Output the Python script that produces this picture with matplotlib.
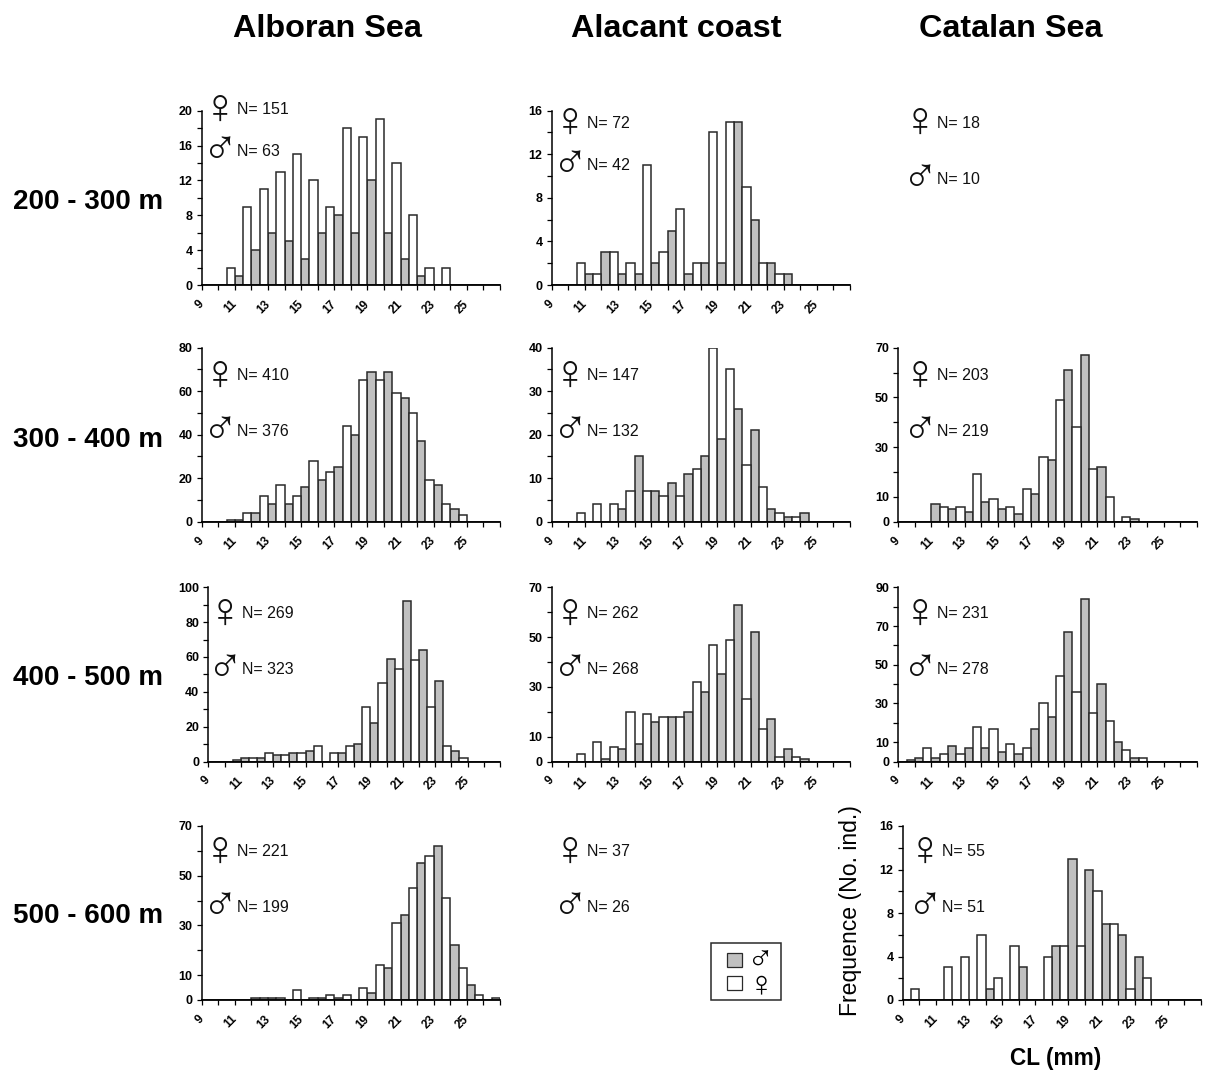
import numpy as np
import matplotlib
matplotlib.use('Agg')
import matplotlib.pyplot as plt
from matplotlib.transforms import ScaledTranslation

plt.rcParams['font.family'] = ['Liberation Sans', 'DejaVu Sans']

W, H = 1205, 1072

# size classes, CL (mm)
cl = np.arange(9, 27)

# counts per class, male = grey, female = white
alb200_m = [0, 0, 1, 4, 6, 5, 3, 6, 8, 6, 12, 6, 3, 1, 0, 0, 0, 0]
alb200_f = [0, 2, 9, 11, 13, 15, 12, 9, 18, 17, 19, 14, 8, 2, 2, 0, 0, 0]
ala200_m = [0, 0, 1, 3, 1, 1, 2, 5, 1, 2, 2, 15, 6, 2, 1, 0, 0, 0]
ala200_f = [0, 2, 1, 3, 2, 11, 3, 7, 2, 14, 15, 9, 2, 1, 0, 0, 0, 0]

alb300_m = [0, 0, 1, 4, 8, 8, 16, 19, 25, 40, 69, 69, 57, 37, 17, 6, 0, 0]
alb300_f = [0, 1, 4, 12, 17, 12, 28, 23, 44, 65, 65, 59, 50, 19, 8, 3, 0, 0]
ala300_m = [0, 0, 0, 0, 3, 15, 7, 9, 11, 15, 19, 26, 21, 3, 1, 2, 0, 0]
ala300_f = [0, 2, 4, 4, 7, 7, 6, 6, 12, 40, 35, 13, 8, 2, 1, 0, 0, 0]
cat300_m = [0, 0, 7, 5, 4, 8, 5, 3, 11, 25, 61, 67, 22, 0, 1, 0, 0, 0]
cat300_f = [0, 0, 6, 6, 19, 9, 6, 13, 26, 49, 38, 21, 10, 2, 0, 0, 0, 0]

alb400_m = [0, 0, 2, 2, 4, 5, 6, 0, 5, 10, 22, 59, 92, 64, 46, 6, 0, 0]
alb400_f = [0, 1, 2, 5, 4, 5, 9, 5, 9, 31, 45, 53, 58, 31, 9, 2, 0, 0]
ala400_m = [0, 0, 0, 1, 5, 7, 16, 18, 20, 28, 35, 63, 52, 17, 5, 1, 0, 0]
ala400_f = [0, 3, 8, 6, 20, 19, 18, 18, 32, 47, 49, 25, 13, 2, 2, 0, 0, 0]
cat400_m = [0, 2, 2, 8, 7, 7, 5, 4, 17, 23, 67, 84, 40, 10, 2, 0, 0, 0]
cat400_f = [1, 7, 4, 4, 18, 17, 9, 7, 30, 44, 36, 25, 21, 6, 2, 0, 0, 0]

alb500_m = [0, 0, 0, 1, 1, 0, 0, 1, 1, 0, 3, 13, 34, 55, 62, 22, 6, 0]
alb500_f = [0, 0, 0, 1, 1, 4, 1, 2, 2, 5, 14, 31, 45, 58, 41, 13, 2, 1]
cat500_m = [0, 0, 0, 0, 0, 1, 0, 3, 0, 5, 13, 12, 7, 6, 4, 0, 0, 0]
cat500_f = [1, 0, 3, 4, 6, 2, 5, 0, 4, 5, 5, 10, 7, 1, 2, 0, 0, 0]

sites = ['Alboran Sea', 'Alacant coast', 'Catalan Sea']
depths = ['200 - 300 m', '300 - 400 m', '400 - 500 m', '500 - 600 m']

# sample sizes (female, male)
n_alb = [(151, 63), (410, 376), (269, 323), (221, 199)]
n_ala = [(72, 42), (147, 132), (262, 268), (37, 26)]
n_cat = [(18, 10), (203, 219), (231, 278), (55, 51)]

# y axes: top, labelled ticks, tick step
scale_a = (20, [0, 4, 8, 12, 16, 20], 2)
scale_b = (16, [0, 4, 8, 12, 16], 2)
scale_c = (80, [0, 20, 40, 60, 80], 10)
scale_d = (40, [0, 10, 20, 30, 40], 5)
scale_e = (70, [0, 10, 30, 50, 70], 10)
scale_f = (100, [0, 20, 40, 60, 80, 100], 10)
scale_g = (90, [0, 10, 30, 50, 70, 90], 10)

# panel boxes in pixels: left, right, top, bottom
panels = [
    (201.7, 500, 110.7, 285, alb200_m, alb200_f, scale_a),
    (551.7, 850, 110.7, 285, ala200_m, ala200_f, scale_b),
    (201.7, 500, 347.7, 521.7, alb300_m, alb300_f, scale_c),
    (551.7, 850, 347.7, 521.7, ala300_m, ala300_f, scale_d),
    (898.3, 1196.7, 347.7, 521.7, cat300_m, cat300_f, scale_e),
    (208.3, 500, 587.3, 761.5, alb400_m, alb400_f, scale_f),
    (551.7, 850, 587.3, 761.5, ala400_m, ala400_f, scale_e),
    (898.3, 1196.7, 587.3, 761.5, cat400_m, cat400_f, scale_g),
    (201.7, 500, 826, 1000, alb500_m, alb500_f, scale_e),
    (902.7, 1201, 826, 1000, cat500_m, cat500_f, scale_b),
]

GREY = '#c0c0c0'
EDGE = '#2a2a2a'
SYMBOL_FONT = ['Liberation Sans', 'DejaVu Sans']


def fx(px):
    return px / W


def fy(py):
    return 1 - py / H


fig = plt.figure(figsize=(W / 100, H / 100), dpi=100)
label_shift = ScaledTranslation(-4 / 100, -1 / 100, fig.dpi_scale_trans)

for left, right, top, bottom, male, female, scale in panels:
    ax = fig.add_axes([fx(left), fy(bottom), (right - left) / W, (bottom - top) / H])
    ax.bar(cl, male, width=0.5, align='edge', fc=GREY, ec=EDGE, lw=1.1)
    ax.bar(cl + 0.5, female, width=0.5, align='edge', fc='white', ec=EDGE, lw=1.1)
    ymax, labelled, step = scale
    ax.set_xlim(9, 27)
    ax.set_ylim(0, ymax)
    ax.spines['top'].set_visible(False)
    ax.spines['right'].set_visible(False)
    ax.spines['left'].set_linewidth(1.1)
    ax.spines['bottom'].set_linewidth(1.3)
    ax.set_xticks(np.arange(9, 28))
    ax.set_xticklabels([str(v) if v % 2 == 1 and v < 27 else '' for v in range(9, 28)],
                       rotation=45, ha='right', va='top', rotation_mode='anchor',
                       fontsize=8.5, fontweight='bold')
    ax.set_yticks(np.arange(0, ymax + step, step))
    ax.set_yticklabels([str(v) if v in labelled else '' for v in np.arange(0, ymax + step, step)],
                       fontsize=9, fontweight='bold')
    ax.tick_params(axis='both', length=3.6, width=0.9)
    ax.tick_params(axis='x', pad=5)
    ax.tick_params(axis='y', pad=3)
    # after tick_params, which resets the label transforms
    for lab in ax.get_xticklabels():
        lab.set_transform(lab.get_transform() + label_shift)

# column and row titles
for name, x in zip(sites, [327.5, 676, 1011]):
    fig.text(fx(x), fy(29), name, fontsize=23.3, fontweight='bold', ha='center', va='center')
for name, y in zip(depths, [202, 440, 678, 916]):
    fig.text(fx(13), fy(y), name, fontsize=20, fontweight='bold', ha='left', va='center')


def sex_note(x, y, text, symbol):
    fig.text(fx(x), fy(y + 1), symbol, fontsize=35, ha='center', va='center',
             family=SYMBOL_FONT, color='#111111')
    fig.text(fx(x + 17), fy(y + 1), text, fontsize=11.5, ha='left', va='center', color='#111111')


# rows: y of female note, y of male note
note_y = [(109, 150), (375, 431), (613, 669), (851, 907)]
note_y_ala1 = (122, 164)
note_y_cat1 = (122, 178)

for i, (nf, nm) in enumerate(n_alb):
    yf, ym = note_y[i]
    x = 225 if i == 2 else 220
    sex_note(x, yf, 'N= %d' % nf, '\u2640')
    sex_note(x, ym, 'N= %d' % nm, '\u2642')
for i, (nf, nm) in enumerate(n_ala):
    yf, ym = note_y_ala1 if i == 0 else note_y[i]
    sex_note(570, yf, 'N= %d' % nf, '\u2640')
    sex_note(570, ym, 'N= %d' % nm, '\u2642')
for i, (nf, nm) in enumerate(n_cat):
    yf, ym = note_y_cat1 if i == 0 else note_y[i]
    x = 925 if i == 3 else 920
    sex_note(x, yf, 'N= %d' % nf, '\u2640')
    sex_note(x, ym, 'N= %d' % nm, '\u2642')

# legend box
fig.add_artist(plt.Rectangle((fx(711), fy(1000)), 70 / W, 57 / H, fc='white', ec=EDGE, lw=1.1,
                             transform=fig.transFigure))
fig.add_artist(plt.Rectangle((fx(727), fy(967)), 15 / W, 14 / H, fc=GREY, ec=EDGE, lw=0.9,
                             transform=fig.transFigure))
fig.add_artist(plt.Rectangle((fx(727), fy(990)), 15 / W, 14 / H, fc='white', ec=EDGE, lw=0.9,
                             transform=fig.transFigure))
fig.text(fx(761), fy(961), '\u2642', fontsize=26, ha='center', va='center', family=SYMBOL_FONT)
fig.text(fx(761), fy(986), '\u2640', fontsize=26, ha='center', va='center', family=SYMBOL_FONT)

fig.text(fx(851), fy(911), 'Frequence (No. ind.)', fontsize=16.6, rotation=90, ha='center', va='center')
fig.text(fx(1056), fy(1059), 'CL (mm)', fontsize=16.3, fontweight='bold', ha='center', va='center')

fig.savefig('out.png', dpi=100)
